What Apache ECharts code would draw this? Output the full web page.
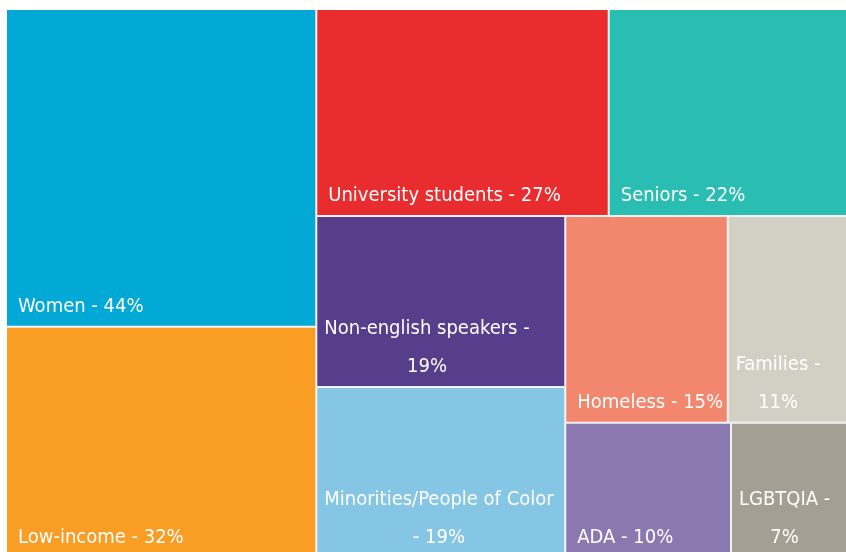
<!DOCTYPE html>
<html>
<head>
<meta charset="utf-8">
<script src="https://cdn.jsdelivr.net/npm/echarts@6/dist/echarts.min.js"></script>
<style>
  html, body { margin: 0; padding: 0; background: #fff; }
</style>
</head>
<body>
<div id="container" style="width: 846px;height:552px;"></div>
<script>
  // groups and their share (%)
  // (ties are laid out by echarts in reverse data order, so Minorities is listed before Non-english)
  var names = ['Women', 'Low-income', 'University students', 'Seniors', 'Minorities/People of Color',
    'Non-english speakers', 'Homeless', 'Families', 'ADA', 'LGBTQIA'];
  var shares = [44, 32, 27, 22, 19, 19, 15, 11, 10, 7];
  var colors = ['#02a8d6', '#f99d25', '#e92c2e', '#2abdb1', '#85c6e5',
    '#573e8b', '#f2876e', '#d2d0c4', '#8b78b0', '#a39f93'];
  // labels that go on two lines: break after or before the dash
  var breaks = {'Non-english speakers': 'after', 'Minorities/People of Color': 'before', 'Families': 'after', 'LGBTQIA': 'after'};

  var FONT = 'DejaVu Sans Condensed';
  var FONT_SIZE = 20;
  var ctx = document.createElement('canvas').getContext('2d');
  ctx.font = FONT_SIZE + 'px "' + FONT + '"';

  function labelText(name, v) {
    if (breaks[name] === 'after') return name + ' -\n' + v + '%';
    if (breaks[name] === 'before') return name + '\n- ' + v + '%';
    return name + ' - ' + v + '%';
  }

  var data = names.map(function (n, i) {
    var text = labelText(n, shares[i]);
    var w = Math.max.apply(null, text.split('\n').map(function (l) { return ctx.measureText(l).width; }));
    var pad = text.indexOf('\n') > 0 ? 4 : 8;
    return {
      name: n,
      value: shares[i],
      itemStyle: {color: colors[i]},
      label: {formatter: text, offset: [w / 2 + pad, 8]}
    };
  });

  var myChart = echarts.init(document.getElementById('container'));
  myChart.setOption({
    animation: false,
    series: [{
      type: 'treemap',
      left: 7,
      top: 10,
      right: 0,
      bottom: -5,   // the picture is cut a little below the bottom row
      squareRatio: 1,
      roam: false,
      nodeClick: false,
      silent: true,
      breadcrumb: {show: false},
      levels: [{
        itemStyle: {borderWidth: 0, gapWidth: 2, borderColor: '#f2f2f2'}
      }],
      itemStyle: {borderWidth: 0},
      label: {
        show: true,
        position: 'insideBottomLeft',
        distance: 3,
        align: 'center',
        color: '#fff',
        fontFamily: FONT,
        fontSize: FONT_SIZE,
        lineHeight: 38,
        overflow: 'none'
      },
      emphasis: {disabled: true},
      data: data
    }]
  });
</script>
</body>
</html>
